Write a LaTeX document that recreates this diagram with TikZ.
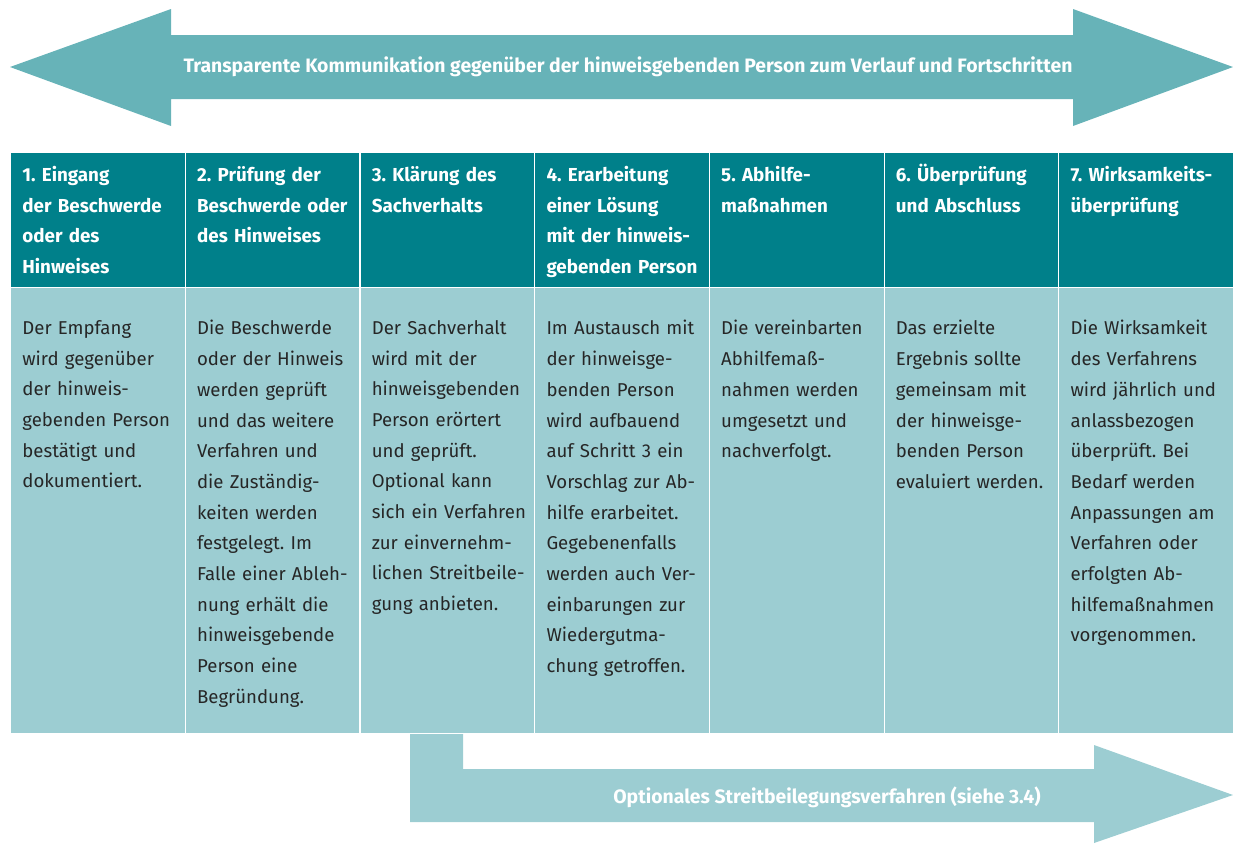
\documentclass[tikz,border=0pt]{standalone}
\usepackage{fontspec}
\setmainfont{Fira Sans}
\usetikzlibrary{shapes,arrows,positioning}
\usepackage{xcolor}
\frenchspacing

\definecolor{arrowteal}{HTML}{67B3B8}
\definecolor{headteal}{HTML}{00808A}
\definecolor{bodyteal}{HTML}{9CCDD2}

\begin{document}
\begin{tikzpicture}[x=0.5pt, y=-0.5pt]

  % Define styles for cells and texts
  \tikzstyle{headbox} = [rectangle, draw=white, line width=0.6pt, fill=headteal, anchor=north west, minimum width=87.35pt, minimum height=67.5pt, inner sep=0pt]
  \tikzstyle{bodybox} = [rectangle, draw=white, line width=0.6pt, fill=bodyteal, anchor=north west, minimum width=87.35pt, minimum height=223pt, inner sep=0pt]
  \tikzstyle{headtext} = [anchor=north west, inner sep=0pt, text width=82pt, align=left, text=white, font=\fontsize{9.4pt}{15.35pt}\selectfont\bfseries, execute at begin node=\vphantom{Ü}]
  \tikzstyle{bodytext} = [anchor=north west, inner sep=0pt, text width=82pt, align=left, text=black!85, font=\fontsize{9.3pt}{15.35pt}\selectfont]
  \tikzstyle{arrowtext} = [text=white, inner sep=0pt, font=\fontsize{9.7pt}{11pt}\selectfont\bfseries]

  \useasboundingbox (0,0) rectangle (1233,843);

  % Top arrow
  \fill[arrowteal] (10,67) -- (171,9) -- (171,35) -- (1073,35) -- (1073,9) -- (1233,67)
    -- (1073,126) -- (1073,99) -- (171,99) -- (171,126) -- cycle;
  \node[arrowtext] (toplabel) at (628,67) {Transparente Kommunikation gegenüber der hinweisgebenden Person zum Verlauf und Fortschritten};

  % Bottom arrow
  \fill[bodyteal] (410,730) -- (463,730) -- (463,769) -- (1094,769) -- (1094,745) -- (1233,795)
    -- (1094,843) -- (1094,822) -- (410,822) -- cycle;
  \node[arrowtext] (bottomlabel) at (827,797) {Optionales Streitbeilegungsverfahren (siehe 3.4)};

  % Header cells
  \node[headbox] (head1) at (10,152) {};
  \node[headbox] (head2) at (184.7,152) {};
  \node[headbox] (head3) at (359.4,152) {};
  \node[headbox] (head4) at (534.1,152) {};
  \node[headbox] (head5) at (708.8,152) {};
  \node[headbox] (head6) at (883.5,152) {};
  \node[headbox] (head7) at (1058.2,152) {};

  % Body cells
  \node[bodybox] (body1) at (10,287) {};
  \node[bodybox] (body2) at (184.7,287) {};
  \node[bodybox] (body3) at (359.4,287) {};
  \node[bodybox] (body4) at (534.1,287) {};
  \node[bodybox] (body5) at (708.8,287) {};
  \node[bodybox] (body6) at (883.5,287) {};
  \node[bodybox] (body7) at (1058.2,287) {};

  % Header texts
  \node[headtext] (step1) at ([shift={(12,11.5)}]head1.north west) {1. Eingang\\der Beschwerde\\oder des\\Hinweises};
  \node[headtext] (step2) at ([shift={(12,11.5)}]head2.north west) {2. Prüfung der\\Beschwerde oder\\des Hinweises};
  \node[headtext] (step3) at ([shift={(12,11.5)}]head3.north west) {3. Klärung des\\Sachverhalts};
  \node[headtext] (step4) at ([shift={(12,11.5)}]head4.north west) {4. Erarbeitung\\einer Lösung\\mit der hinweis-\\gebenden Person};
  \node[headtext] (step5) at ([shift={(12,11.5)}]head5.north west) {5. Abhilfe-\\maßnahmen};
  \node[headtext] (step6) at ([shift={(12,11.5)}]head6.north west) {6. Überprüfung\\und Abschluss};
  \node[headtext] (step7) at ([shift={(12,11.5)}]head7.north west) {7. Wirksamkeits-\\überprüfung};

  % Body texts
  \node[bodytext] (text1) at ([shift={(12,33)}]body1.north west) {Der Empfang\\wird gegenüber\\der hinweis-\\gebenden Person\\bestätigt und\\dokumentiert.};
  \node[bodytext] (text2) at ([shift={(12,33)}]body2.north west) {Die Beschwerde\\oder der Hinweis\\werden geprüft\\und das weitere\\Verfahren und\\die Zuständig-\\keiten werden\\festgelegt. Im\\Falle einer Ableh-\\nung erhält die\\hinweisgebende\\Person eine\\Begründung.};
  \node[bodytext] (text3) at ([shift={(12,33)}]body3.north west) {Der Sachverhalt\\wird mit der\\hinweisgebenden\\Person erörtert\\und geprüft.\\Optional kann\\sich ein Verfahren\\zur einvernehm-\\lichen Streitbeile-\\gung anbieten.};
  \node[bodytext] (text4) at ([shift={(12,33)}]body4.north west) {Im Austausch mit\\der hinweisge-\\benden Person\\wird aufbauend\\auf Schritt 3 ein\\Vorschlag zur Ab-\\hilfe erarbeitet.\\Gegebenenfalls\\werden auch Ver-\\einbarungen zur\\Wiedergutma-\\chung getroffen.};
  \node[bodytext] (text5) at ([shift={(12,33)}]body5.north west) {Die vereinbarten\\Abhilfemaß-\\nahmen werden\\umgesetzt und\\nachverfolgt.};
  \node[bodytext] (text6) at ([shift={(12,33)}]body6.north west) {Das erzielte\\Ergebnis sollte\\gemeinsam mit\\der hinweisge-\\benden Person\\evaluiert werden.};
  \node[bodytext] (text7) at ([shift={(12,33)}]body7.north west) {Die Wirksamkeit\\des Verfahrens\\wird jährlich und\\anlassbezogen\\überprüft. Bei\\Bedarf werden\\Anpassungen am\\Verfahren oder\\erfolgten Ab-\\hilfemaßnahmen\\vorgenommen.};

\end{tikzpicture}
\end{document}
